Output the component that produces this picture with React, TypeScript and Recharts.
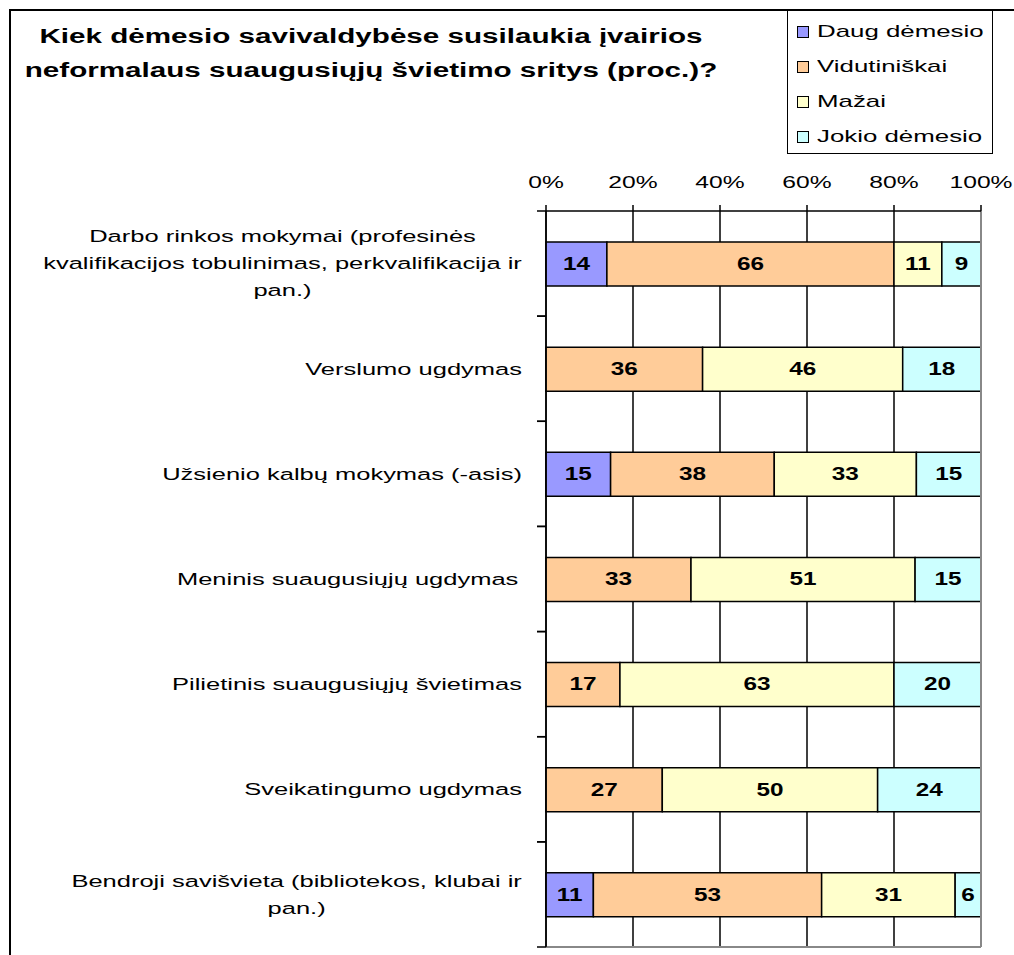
import React from 'react'
import {
  Bar,
  BarChart,
  CartesianGrid,
  LabelList,
  ReferenceLine,
  XAxis,
  YAxis,
} from 'recharts'

// Sritys (eilutės), iš viršaus į apačią
const CATEGORIES = [
  'Darbo rinkos mokymai (profesinės\nkvalifikacijos tobulinimas, perkvalifikacija ir\npan.)',
  'Verslumo ugdymas',
  'Užsienio kalbų mokymas (-asis)',
  'Meninis suaugusiųjų ugdymas ',
  'Pilietinis suaugusiųjų švietimas',
  'Sveikatingumo ugdymas',
  'Bendroji savišvieta (bibliotekos, klubai ir\npan.)',
]

const DAUG = [14, null, 15, null, null, null, 11]
const VIDUTINISKAI = [66, 36, 38, 33, 17, 27, 53]
const MAZAI = [11, 46, 33, 51, 63, 50, 31]
const JOKIO = [9, 18, 15, 15, 20, 24, 6]

const X_TICKS = [0, 0.2, 0.4, 0.6, 0.8, 1]

const SERIES = [
  { key: 'daug', name: 'Daug dėmesio', color: '#9999FF' },
  { key: 'vid', name: 'Vidutiniškai', color: '#FFCC99' },
  { key: 'mazai', name: 'Mažai', color: '#FFFFCC' },
  { key: 'jokio', name: 'Jokio dėmesio', color: '#CCFFFF' },
]

const TITLE = [
  'Kiek dėmesio savivaldybėse susilaukia įvairios',
  'neformalaus suaugusiųjų švietimo sritys (proc.)?',
]

const FONT = '"Liberation Sans", Arial, sans-serif'
const STRETCH = 1.45 // originalo tekstas ištemptas horizontaliai
const CAT_STRETCH = 1.5
const W = 1014
const H = 955
const PLOT_TOP = 211
const PLOT_BOTTOM = 947
const PLOT_LEFT = 546
const PLOT_RIGHT = 981
const BAND = (PLOT_BOTTOM - PLOT_TOP) / CATEGORIES.length

const data = CATEGORIES.map((name, i) => ({
  name,
  daug: DAUG[i],
  vid: VIDUTINISKAI[i],
  mazai: MAZAI[i],
  jokio: JOKIO[i],
}))

let ctx: CanvasRenderingContext2D | null = null
function measure(text: string, font: string) {
  if (!ctx) ctx = document.createElement('canvas').getContext('2d')
  if (!ctx) return text.length * 9
  ctx.font = font
  return ctx.measureText(text).width
}

function CategoryTick(props: any) {
  const { x, y, payload } = props
  const lines = String(payload.value).split('\n')
  const font = `17px ${FONT}`
  const maxW = Math.max(...lines.map((l) => measure(l, font))) * CAT_STRETCH
  const right = x - 16
  const cx = right - maxW / 2
  const lh = 27
  const y0 = y - ((lines.length - 1) * lh) / 2
  return (
    <g>
      {lines.map((l, i) => (
        <text
          key={i}
          transform={`translate(${cx},${y0 + i * lh}) scale(${CAT_STRETCH},1)`}
          textAnchor="middle"
          dominantBaseline="central"
          fontFamily={FONT}
          fontSize={17}
          fill="#000"
        >
          {l}
        </text>
      ))}
      <line x1={PLOT_LEFT - 9} x2={PLOT_LEFT} y1={y - BAND / 2} y2={y - BAND / 2} stroke="#000" strokeWidth={1.5} />
      <line x1={PLOT_LEFT - 9} x2={PLOT_LEFT} y1={y + BAND / 2} y2={y + BAND / 2} stroke="#000" strokeWidth={1.5} />
    </g>
  )
}

function PercentTick(props: any) {
  const { x, payload } = props
  return (
    <text
      transform={`translate(${x},${182}) scale(${STRETCH},1)`}
      textAnchor="middle"
      dominantBaseline="central"
      fontFamily={FONT}
      fontSize={17}
      fill="#000"
    >
      {`${Math.round(payload.value * 100)}%`}
    </text>
  )
}

function ValueLabel(props: any) {
  const { x, y, width, height, value } = props
  if (value == null || value === 0) return null
  return (
    <text
      transform={`translate(${x + width / 2},${y + height / 2}) scale(1.35,1)`}
      textAnchor="middle"
      dominantBaseline="central"
      fontFamily={FONT}
      fontWeight="bold"
      fontSize={18}
      fill="#000"
    >
      {value}
    </text>
  )
}

function LegendBox() {
  return (
    <div
      style={{
        position: 'absolute',
        left: 787,
        top: 10,
        width: 206,
        height: 144,
        border: '1px solid #000',
        background: '#fff',
        boxSizing: 'border-box',
        paddingTop: 3,
      }}
    >
      {SERIES.map((s) => (
        <div key={s.key} style={{ height: 35, display: 'flex', alignItems: 'center' }}>
          <span
            style={{
              display: 'inline-block',
              width: 10,
              height: 10,
              marginLeft: 9,
              marginRight: 8,
              background: s.color,
              border: '1px solid #000',
            }}
          />
          <span
            style={{
              fontFamily: FONT,
              fontSize: 17,
              display: 'inline-block',
              transform: 'scaleX(1.52)',
              transformOrigin: 'left center',
              whiteSpace: 'nowrap',
            }}
          >
            {s.name}
          </span>
        </div>
      ))}
    </div>
  )
}

export default function App() {
  return (
    <div style={{ position: 'absolute', left: 0, top: 0, width: W, height: H, background: '#fff', overflow: 'hidden' }}>
      <div
        style={{
          position: 'absolute',
          left: 9,
          top: 9,
          right: -5,
          bottom: -5,
          borderLeft: '2px solid #000',
          borderTop: '2px solid #000',
        }}
      />
      {TITLE.map((t, i) => (
        <div
          key={i}
          style={{
            position: 'absolute',
            left: 371,
            top: 36 + i * 34,
            transform: 'translate(-50%, -50%) scaleX(1.48)',
            fontFamily: FONT,
            fontWeight: 'bold',
            fontSize: 20,
            whiteSpace: 'nowrap',
          }}
        >
          {t}
        </div>
      ))}
      <div style={{ position: 'absolute', left: 0, top: 0 }}>
        <BarChart
          width={W}
          height={H}
          data={data}
          layout="vertical"
          stackOffset="expand"
          barSize={44}
          margin={{ top: PLOT_TOP - 40, right: W - PLOT_RIGHT, bottom: H - PLOT_BOTTOM, left: 0 }}
        >
          <CartesianGrid horizontal={false} stroke="#000" strokeWidth={1.5} />
          <CartesianGrid
            vertical={false}
            stroke="#888"
            strokeWidth={2}
            horizontalCoordinatesGenerator={({ offset }: any) => [offset.top + offset.height]}
          />
          <XAxis
            type="number"
            orientation="top"
            domain={[0, 1]}
            ticks={X_TICKS}
            height={40}
            tick={<PercentTick />}
            tickSize={6}
            axisLine={{ stroke: '#000', strokeWidth: 1.5 }}
            tickLine={{ stroke: '#000', strokeWidth: 1.5 }}
          />
          <YAxis
            type="category"
            dataKey="name"
            width={PLOT_LEFT}
            tick={<CategoryTick />}
            tickLine={false}
            axisLine={{ stroke: '#000', strokeWidth: 1.5 }}
            interval={0}
          />
          <ReferenceLine x={1} stroke="#888" strokeWidth={2} />
          {SERIES.map((s) => (
            <Bar
              key={s.key}
              dataKey={s.key}
              name={s.name}
              stackId="a"
              fill={s.color}
              stroke="#000"
              strokeWidth={1.5}
              isAnimationActive={false}
            >
              <LabelList dataKey={s.key} content={<ValueLabel />} />
            </Bar>
          ))}
        </BarChart>
      </div>
      <LegendBox />
    </div>
  )
}
